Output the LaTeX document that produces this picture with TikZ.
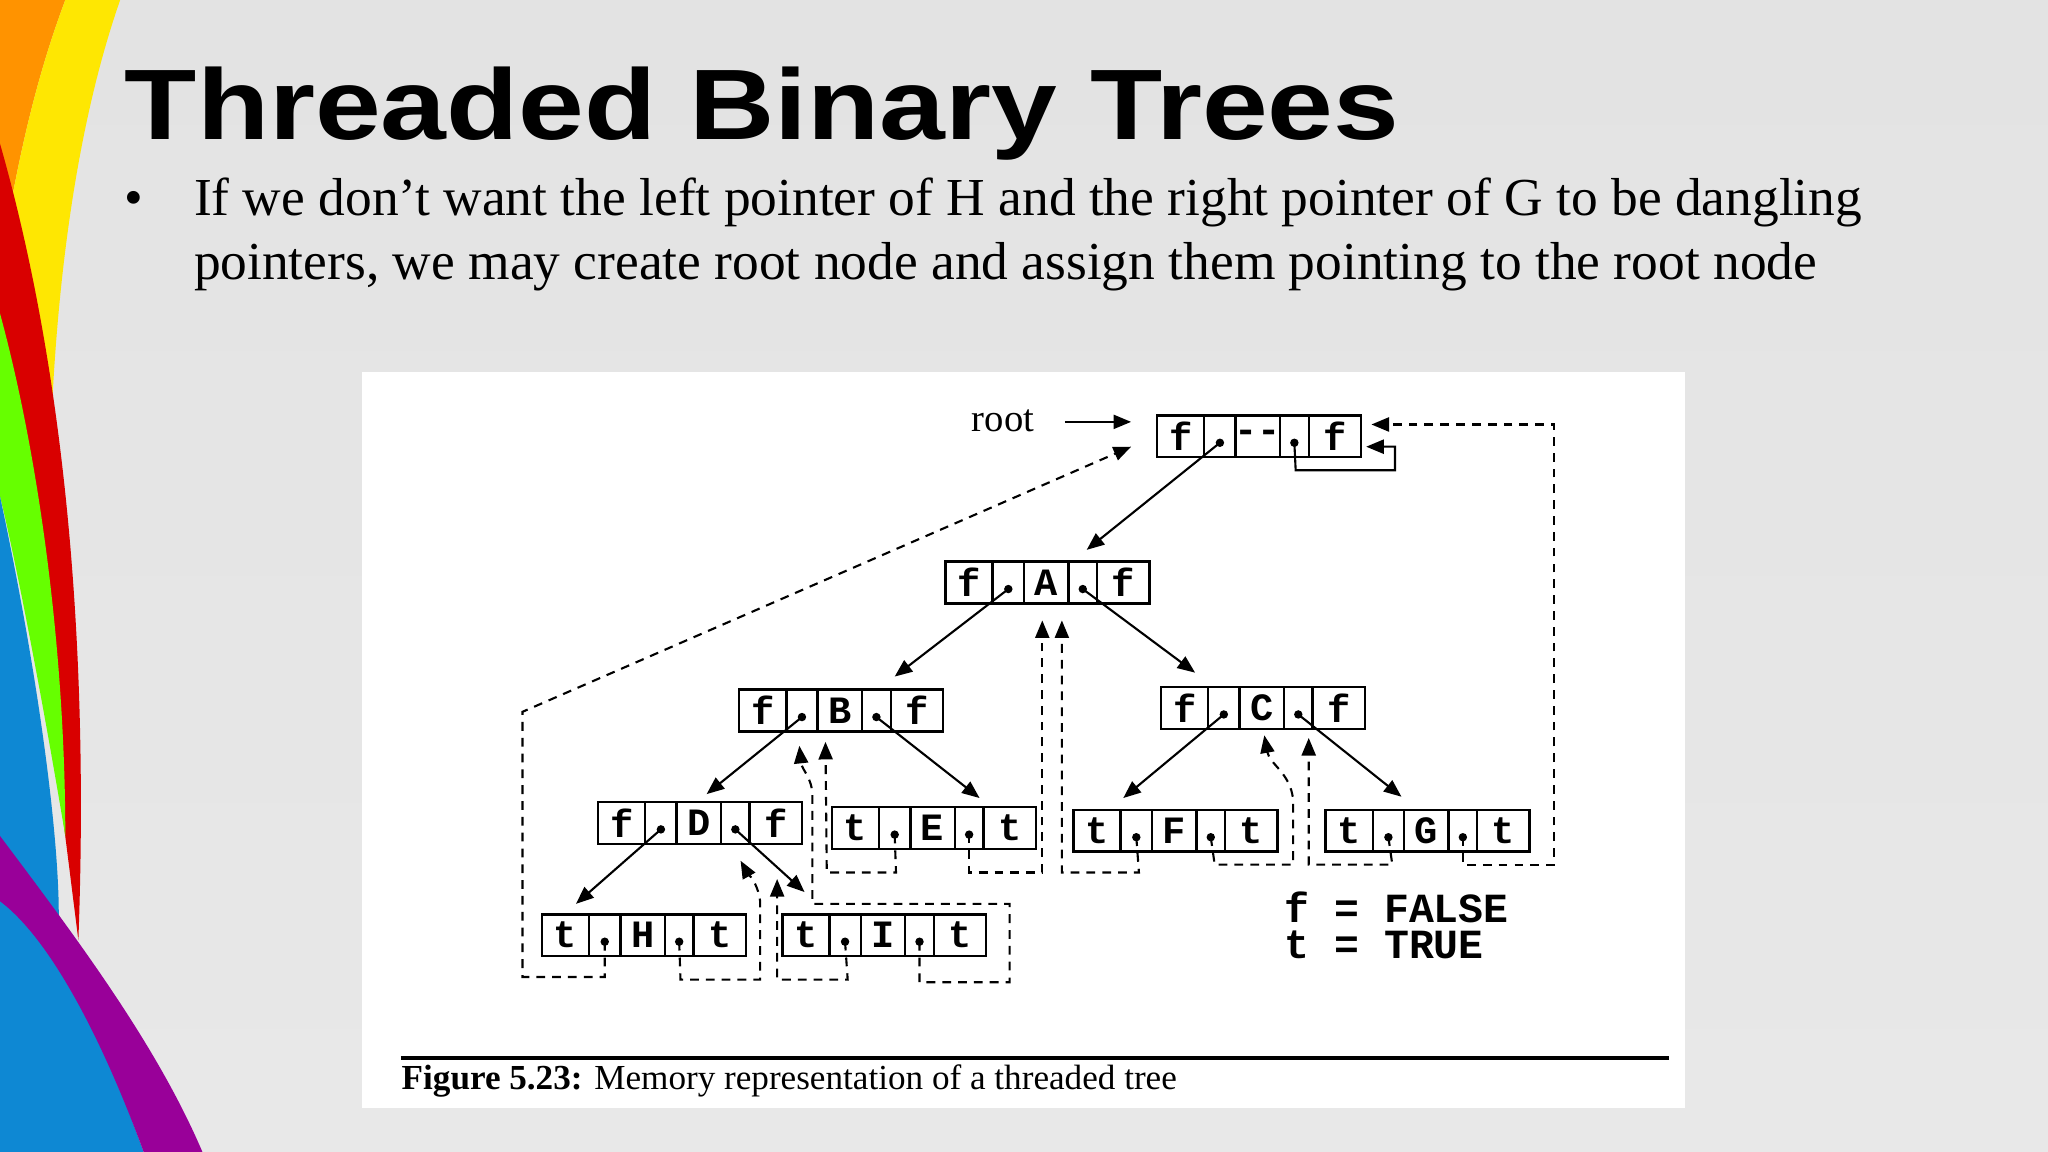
\documentclass[tikz,border=0pt]{standalone}
\usepackage{fontspec}
\setmainfont{Liberation Serif}
\newfontfamily\titlefont{Liberation Sans}
\newfontfamily\monofont{Liberation Mono}
\usetikzlibrary{arrows.meta}
\tikzset{
  box/.style={draw=black,line width=0.7pt},
  lbl/.style={font=\monofont\bfseries\fontsize{11}{11}\selectfont,inner sep=0pt},
  ptr/.style={-{Triangle[length=5pt,width=4pt]},line width=0.6pt},
  thr/.style={-{Triangle[length=5pt,width=4pt]},line width=0.6pt,dash pattern=on 2.5pt off 2pt},
  legend/.style={anchor=base west,inner sep=0pt,font=\monofont\bfseries\fontsize{11.8}{12}\selectfont},
}
\newcommand\rec[6]{%
  \draw[box] (#2,#3) rectangle ++(156,32);
  \foreach \d in {36,60,94,116} \draw[box] (#2+\d,#3) -- ++(0,32);
  \node[lbl] (#1-l) at (#2+18,#3+16) {#4};
  \node[lbl] (#1-m) at (#2+77,#3+16) {#5};
  \node[lbl] (#1-r) at (#2+136,#3+16) {#6};
  \coordinate (#1-a) at (#2+48,#3+21);
  \coordinate (#1-b) at (#2+105,#3+21);
  \fill (#1-a) circle[radius=1.2pt];
  \fill (#1-b) circle[radius=1.2pt];
}
\begin{document}
\begin{tikzpicture}[x=0.013061cm,y=-0.013061cm]
\useasboundingbox (0,0) rectangle (1568,882);
% background
\shade[top color=black!11,middle color=white,bottom color=black!9] (0,0) rectangle (1568,882);
% swooshes
\fill[orange!85!yellow] (0,0) -- (50,0) .. controls (20,80) and (10,150) .. (0,200) -- cycle;
\fill[yellow!90!orange] (50,0) -- (92,0) .. controls (50,120) and (30,300) .. (40,520) .. controls (20,400) and (10,250) .. (0,200) .. controls (10,150) and (20,80) .. (50,0) -- cycle;
\fill[red!85!black] (0,110) .. controls (40,250) and (70,450) .. (60,720) .. controls (45,600) and (20,400) .. (0,300) -- cycle;
\fill[green!60!yellow] (0,240) .. controls (30,350) and (50,500) .. (50,640) .. controls (30,520) and (10,420) .. (0,380) -- cycle;
\fill[cyan!70!blue] (0,380) .. controls (30,520) and (45,640) .. (45,700) .. controls (70,780) and (95,840) .. (110,882) -- (0,882) -- cycle;
\fill[violet!80!magenta] (0,640) .. controls (60,720) and (120,800) .. (155,882) -- (110,882) .. controls (80,800) and (40,720) .. (0,690) -- cycle;
% figure area
\fill[white] (277,285) rectangle (1290,848);
% title and bullet
\node[anchor=base west,inner sep=0pt,font=\titlefont\bfseries\fontsize{28.5}{30}\selectfont] (title) at (95,107) {\scalebox{1.18}[1]{Threaded Binary Trees}};
\node[anchor=base west,inner sep=0pt,font=\fontsize{15.2}{15}\selectfont] (bul) at (95,165) {•};
\node[anchor=base west,inner sep=0pt,font=\fontsize{15.2}{15}\selectfont] (l1) at (148,165) {If we don’t want the left pointer of H and the right pointer of G to be dangling};
\node[anchor=base west,inner sep=0pt,font=\fontsize{15.2}{15}\selectfont] (l2) at (148,214) {pointers, we may create root node and assign them pointing to the root node};
% records
\rec{R}{886}{318}{f}{--}{f}
\rec{A}{724}{430}{f}{A}{f}
\rec{B}{566}{528}{f}{B}{f}
\rec{C}{889}{526}{f}{C}{f}
\rec{D}{458}{614}{f}{D}{f}
\rec{E}{637}{618}{t}{E}{t}
\rec{F}{822}{620}{t}{F}{t}
\rec{G}{1015}{620}{t}{G}{t}
\rec{H}{415}{700}{t}{H}{t}
\rec{I}{599}{700}{t}{I}{t}
% root label
\node[font=\fontsize{11}{11}\selectfont] (rootlbl) at (768,322) {root};
\coordinate (rootin) at (866,323);
\coordinate (rootin2) at (866,342);
\draw[ptr] (rootlbl.east) ++(14,1) -- (rootin);
% child pointers
\coordinate (tA) at (832,421); \draw[ptr] (R-a) -- (tA);
\coordinate (tB) at (685,518); \draw[ptr] (A-a) -- (tB);
\coordinate (tC) at (915,515); \draw[ptr] (A-b) -- (tC);
\coordinate (tD) at (541,608); \draw[ptr] (B-a) -- (tD);
\coordinate (tE) at (750,611); \draw[ptr] (B-b) -- (tE);
\coordinate (tF) at (860,611); \draw[ptr] (C-a) -- (tF);
\coordinate (tG) at (1073,610); \draw[ptr] (C-b) -- (tG);
\coordinate (tH) at (441,692); \draw[ptr] (D-a) -- (tH);
\coordinate (tI) at (616,683); \draw[ptr] (D-b) -- (tI);
% root self pointer
\coordinate (rs) at (1046,342);
\draw[ptr] (R-b) -- (992,360) -- (1068,360) -- (1068,342) -- (rs);
% threads
\draw[thr] (H-a) -- (463,748) -- (400,748) -- (400,545) -- (rootin2);
\coordinate (rg) at (1050,325);
\draw[thr] (G-b) -- (1120,662) -- (1190,662) -- (1190,325) -- (rg);
\coordinate (bB1) at (612,571);
\coordinate (bB2) at (632,568);
\draw[thr] (I-b) -- (704,752) -- (773,752) -- (773,692) -- (622,692) -- (622,610) .. controls (622,595) and (614,590) .. (bB1);
\draw[thr] (E-a) -- (686,668) -- (633,668) -- (bB2);
\coordinate (bA1) at (798,475);
\coordinate (bA2) at (813,475);
\draw[thr] (E-b) -- (742,668) -- (798,668) -- (bA1);
\draw[thr] (F-a) -- (872,668) -- (813,668) -- (bA2);
\coordinate (bC1) at (968,563);
\coordinate (bC2) at (1002,565);
\draw[thr] (F-b) -- (930,662) -- (990,662) -- (990,612) .. controls (988,592) and (972,585) .. (bC1);
\draw[thr] (G-a) -- (1066,662) -- (1002,662) -- (bC2);
\coordinate (bD1) at (567,659);
\coordinate (bD2) at (595,673);
\draw[thr] (H-b) -- (521,750) -- (582,750) -- (582,690) .. controls (580,675) and (572,668) .. (bD1);
\draw[thr] (I-a) -- (649,750) -- (595,750) -- (bD2);
% legend
\node[legend] (lg1) at (983,706) {f = FALSE};
\node[legend] (lg2) at (983,734) {t = TRUE};
% caption
\draw[line width=1pt] (307,810) -- (1278,810);
\node[anchor=base west,inner sep=0pt,font=\fontsize{10}{10}\selectfont] (cap) at (307,834) {\textbf{Figure 5.23:} Memory representation of a threaded tree};
\end{tikzpicture}
\end{document}
